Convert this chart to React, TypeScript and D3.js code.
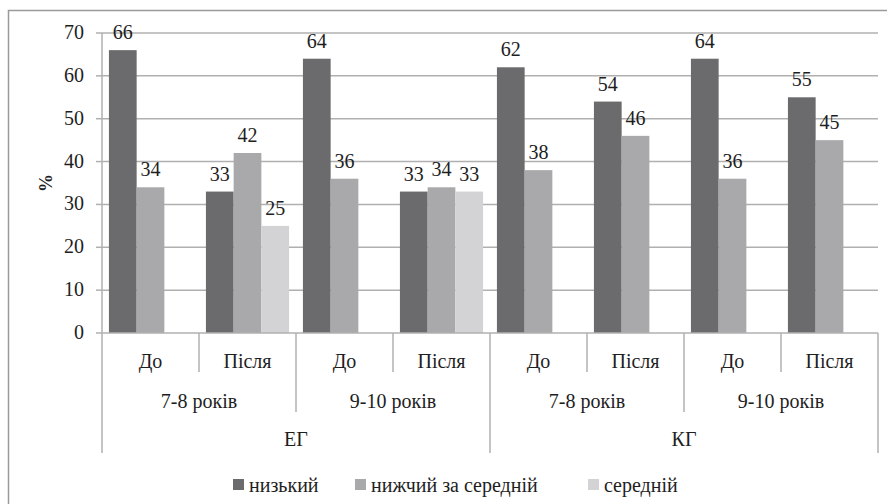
import * as d3 from 'd3';

const categories = ['До', 'Після', 'До', 'Після', 'До', 'Після', 'До', 'Після'];
const ageGroups = ['7-8 років', '9-10 років', '7-8 років', '9-10 років'];
const groups = ['ЕГ', 'КГ'];
const seriesNames = ['низький', 'нижчий за середній', 'середній'];
const lowValues = [66, 33, 64, 33, 62, 54, 64, 55];
const belowMidValues = [34, 42, 36, 34, 38, 46, 36, 45];
const midValues: (number | null)[] = [null, 25, null, 33, null, null, null, null];
const yTicks = [0, 10, 20, 30, 40, 50, 60, 70];

const colors = ['#6b6b6d', '#a9a9ab', '#d3d3d5'];
const fam = 'Tinos, Liberation Serif, FreeSerif, serif';

const App = () => {
  const left = 102;
  const right = 878;
  const top = 33;
  const bottom = 333;
  const lineColor = '#b0b0b0';
  const txt = '#1e1e1e';
  const fs = 20;

  const x = d3.scaleBand<number>().domain(d3.range(categories.length)).range([left, right]);
  const bw = x.bandwidth();
  const inner = d3.scaleBand<number>().domain([0, 1, 2]).range([0, bw]).paddingInner(0).paddingOuter(0.25);
  const y = d3.scaleLinear().domain([0, 70]).range([bottom, top]);
  const series = [lowValues, belowMidValues, midValues];

  return (
    <svg width={887} height={504} style={{ position: 'fixed', left: 0, top: 0 }}>
      <rect x={8.5} y={10.5} width={890} height={500} fill="#fff" stroke="#9a9a9a" strokeWidth={1.5} />

      {/* gridlines and y axis */}
      {yTicks.map(t => (
        <g key={t}>
          {t > 0 && <line x1={left} x2={right} y1={y(t)} y2={y(t)} stroke={lineColor} strokeWidth={1.5} />}
          <line x1={96} x2={left} y1={y(t)} y2={y(t)} stroke={lineColor} strokeWidth={1.5} />
          <text x={84} y={y(t) + 6} textAnchor="end" fontFamily={fam} fontSize={fs} fill={txt}>{t}</text>
        </g>
      ))}
      <line x1={left} x2={left} y1={top} y2={bottom} stroke={lineColor} strokeWidth={1.5} />
      <text transform="translate(52,183) rotate(-90)" textAnchor="middle" fontFamily={fam} fontSize={18} fontWeight="bold" fill={txt}>%</text>

      {/* bars + value labels */}
      {series.map((vals, si) =>
        vals.map((v, ci) => {
          if (v == null) return null;
          const bx = (x(ci) ?? 0) + (inner(si) ?? 0);
          return (
            <g key={`${si}-${ci}`}>
              <rect x={bx} y={y(v)} width={inner.bandwidth()} height={bottom - y(v)} fill={colors[si]} />
              <text x={bx + inner.bandwidth() / 2} y={y(v) - 11} textAnchor="middle" fontFamily={fam} fontSize={fs} fill={txt}>{v}</text>
            </g>
          );
        })
      )}

      {/* multi-level x axis */}
      <line x1={left} x2={right} y1={bottom} y2={bottom} stroke={lineColor} strokeWidth={1.5} />
      {d3.range(categories.length + 1).map(i => {
        const xx = left + i * bw;
        const y2 = i % 4 === 0 ? 453 : i % 2 === 0 ? 412 : 372;
        return <line key={i} x1={xx} x2={xx} y1={bottom} y2={y2} stroke={lineColor} strokeWidth={1.5} />;
      })}
      {categories.map((c, i) => (
        <text key={`c${i}`} x={(x(i) ?? 0) + bw / 2} y={368} textAnchor="middle" fontFamily={fam} fontSize={fs} fill={txt}>{c}</text>
      ))}
      {ageGroups.map((a, i) => (
        <text key={`a${i}`} x={left + (i * 2 + 1) * bw} y={408} textAnchor="middle" fontFamily={fam} fontSize={fs} fill={txt}>{a}</text>
      ))}
      {groups.map((g, i) => (
        <text key={`g${i}`} x={left + (i * 4 + 2) * bw} y={446} textAnchor="middle" fontFamily={fam} fontSize={fs} fill={txt}>{g}</text>
      ))}

      {/* legend */}
      {seriesNames.map((s, i) => {
        const lx = [233, 355, 588][i];
        return (
          <g key={s}>
            <rect x={lx} y={479} width={11} height={11} fill={colors[i]} />
            <text x={lx + 16} y={492} fontFamily={fam} fontSize={fs} fill={txt}>{s}</text>
          </g>
        );
      })}
    </svg>
  );
};

export default App;
